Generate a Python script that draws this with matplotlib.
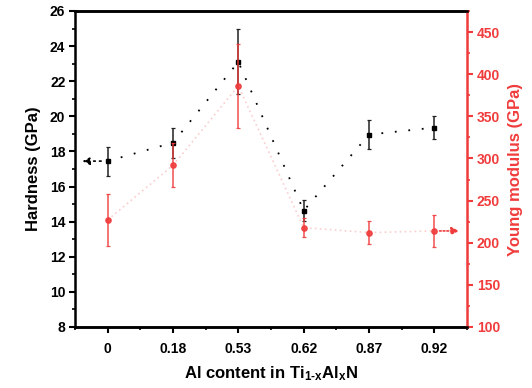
import matplotlib
matplotlib.use("Agg")
import matplotlib.pyplot as plt
import numpy as np
from matplotlib.ticker import MultipleLocator

plt.rcParams['font.family'] = ['Liberation Sans', 'DejaVu Sans']
plt.rcParams['font.weight'] = 'bold'
plt.rcParams['mathtext.fontset'] = 'custom'
plt.rcParams['mathtext.rm'] = 'Liberation Sans:bold'
plt.rcParams['mathtext.bf'] = 'Liberation Sans:bold'
plt.rcParams['mathtext.it'] = 'Liberation Sans:bold'
plt.rcParams['mathtext.default'] = 'bf'

categories = ['0', '0.18', '0.53', '0.62', '0.87', '0.92']
hardness = [17.45, 18.5, 23.1, 14.63, 18.96, 19.36]
hardness_err = [0.83, 0.85, 1.85, 0.6, 0.82, 0.65]
modulus = [227, 292, 386, 218, 212, 214]
modulus_err = [31, 26, 50, 11, 14, 19]

RED = '#F03C3C'

fig = plt.figure(figsize=(5.32, 3.88), dpi=100)
ax = fig.add_axes([75/532, 1-327/388, (467-75)/532, (327-11)/388])
ax2 = ax.twinx()

x = np.arange(len(categories))

ax.errorbar(x, hardness, yerr=hardness_err, fmt='s', color='black', ms=3,
            ecolor='#222222', elinewidth=1.1, capsize=1.6, capthick=0.9, zorder=3)
ax.plot(x, hardness, color='black', linestyle=(0, (1, 6.5)), lw=1.3, zorder=2)

ax2.errorbar(x, modulus, yerr=modulus_err, fmt='o', color=RED, ms=3.8,
             ecolor=RED, elinewidth=1.1, capsize=1.6, capthick=0.9, alpha=0.9, zorder=3)
ax2.plot(x, modulus, color=RED, linestyle=(0, (1, 2)), lw=1.2, alpha=0.25, zorder=2)

ax.annotate('', xy=(x[0] - 0.39, hardness[0]), xytext=(x[0] - 0.1, hardness[0]),
            arrowprops=dict(arrowstyle='-|>', linestyle=(0, (1, 2.5)), color='black', lw=1.2,
                            mutation_scale=11, shrinkA=0, shrinkB=0))
ax2.annotate('', xy=(x[-1] + 0.38, modulus[-1]), xytext=(x[-1] + 0.08, modulus[-1]),
             arrowprops=dict(arrowstyle='-|>', linestyle=(0, (1, 1.2)), color=RED, lw=1.2,
                             mutation_scale=11, shrinkA=0, shrinkB=0))

ax.set_xlim(-0.5, 5.5)
ax.set_ylim(8, 26)

ax.set_xticks(x)
ax.set_xticklabels(categories)
ax.xaxis.set_minor_locator(MultipleLocator(0.5))
ax.yaxis.set_major_locator(MultipleLocator(2))
ax.yaxis.set_minor_locator(MultipleLocator(1))
ax2.set_yticks(np.arange(100, 451, 50))
ax2.yaxis.set_minor_locator(MultipleLocator(25))
ax2.set_ylim(100, 475)

for a in (ax, ax2):
    for s in a.spines.values():
        s.set_linewidth(1.8)
ax.spines['right'].set_visible(False)
ax2.spines['right'].set_color(RED)
ax2.spines['left'].set_visible(False)
ax2.spines['top'].set_color('black')

ax.tick_params(axis='both', which='major', direction='out', length=4.5, width=1.5,
               labelsize=10, pad=2.5)
ax.tick_params(axis='both', which='minor', direction='out', length=2.5, width=1.2)
ax.tick_params(axis='x', which='major', pad=6)
ax2.tick_params(axis='y', which='major', direction='out', length=4.5, width=1.5,
                labelsize=10, colors=RED, pad=2.5)
ax2.tick_params(axis='y', which='minor', direction='out', length=2.5, width=1.2, colors=RED)

ax.set_ylabel('Hardness (GPa)', fontsize=12, fontweight='bold', labelpad=6)
ax2.set_ylabel('Young modulus (GPa)', fontsize=12, fontweight='bold', color=RED, labelpad=6)
ax.set_xlabel(r'Al content in Ti$_{1\text{-}x}$Al$_{x}$N', fontsize=12, fontweight='bold',
              labelpad=6)

fig.savefig('out.png', dpi=100)
